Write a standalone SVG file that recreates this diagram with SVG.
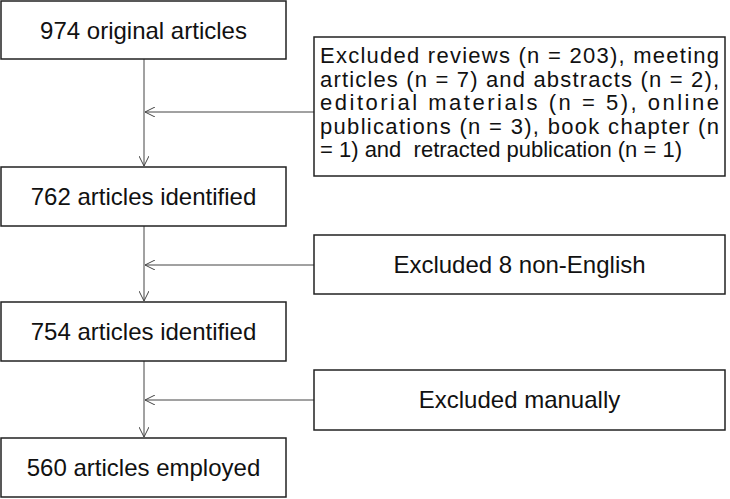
<svg xmlns="http://www.w3.org/2000/svg" width="730" height="499" viewBox="0 0 730 499">
<style>
rect{fill:#fff;stroke:#222;stroke-width:1.5}
text{font-family:"Liberation Sans",Arial,sans-serif;font-size:24px;fill:#111}
.s{font-size:22px}
.c{text-anchor:middle}
.l{stroke:#444;stroke-width:1;fill:none}
</style>
<defs><marker id="a" viewBox="0 0 10 10" refX="10" refY="5" markerWidth="10" markerHeight="10" markerUnits="userSpaceOnUse" orient="auto"><path d="M0,0L10,5L0,10" fill="none" stroke="#444" stroke-width="1"/></marker></defs>
<g id="connectors">
<path class="l" d="M144,59V166" marker-end="url(#a)"/>
<path class="l" d="M144,226V301" marker-end="url(#a)"/>
<path class="l" d="M144,361V437" marker-end="url(#a)"/>
<path class="l" d="M314,112H145" marker-end="url(#a)"/>
<path class="l" d="M314,265H145" marker-end="url(#a)"/>
<path class="l" d="M314,400H145" marker-end="url(#a)"/>
</g>
<g id="n1"><rect x="1" y="1" width="285" height="58"/><text class="c" x="143.5" y="39">974 original articles</text></g>
<g id="n2"><rect x="1" y="167" width="285" height="59"/><text class="c" x="143.5" y="205">762 articles identified</text></g>
<g id="n3"><rect x="1" y="302" width="285" height="59"/><text class="c" x="143.5" y="340">754 articles identified</text></g>
<g id="n4"><rect x="1" y="438" width="285" height="59"/><text class="c" x="143.5" y="476">560 articles employed</text></g>
<g id="e1"><rect x="314" y="37" width="411" height="139"/>
<text class="s" x="320" y="63" textLength="399" lengthAdjust="spacing">Excluded reviews (n = 203), meeting</text>
<text class="s" x="320" y="86.5" textLength="399" lengthAdjust="spacing">articles (n = 7) and abstracts (n = 2),</text>
<text class="s" x="320" y="110" textLength="399" lengthAdjust="spacing">editorial materials (n = 5), online</text>
<text class="s" x="320" y="133.5" textLength="399" lengthAdjust="spacing">publications (n = 3), book chapter (n</text>
<text class="s" x="320" y="157" xml:space="preserve">= 1) and  retracted publication (n = 1)</text></g>
<g id="e2"><rect x="314" y="235" width="411" height="59"/><text class="c" x="519.5" y="273">Excluded 8 non-English</text></g>
<g id="e3"><rect x="314" y="370" width="411" height="60"/><text class="c" x="519.5" y="408">Excluded manually</text></g>
</svg>
